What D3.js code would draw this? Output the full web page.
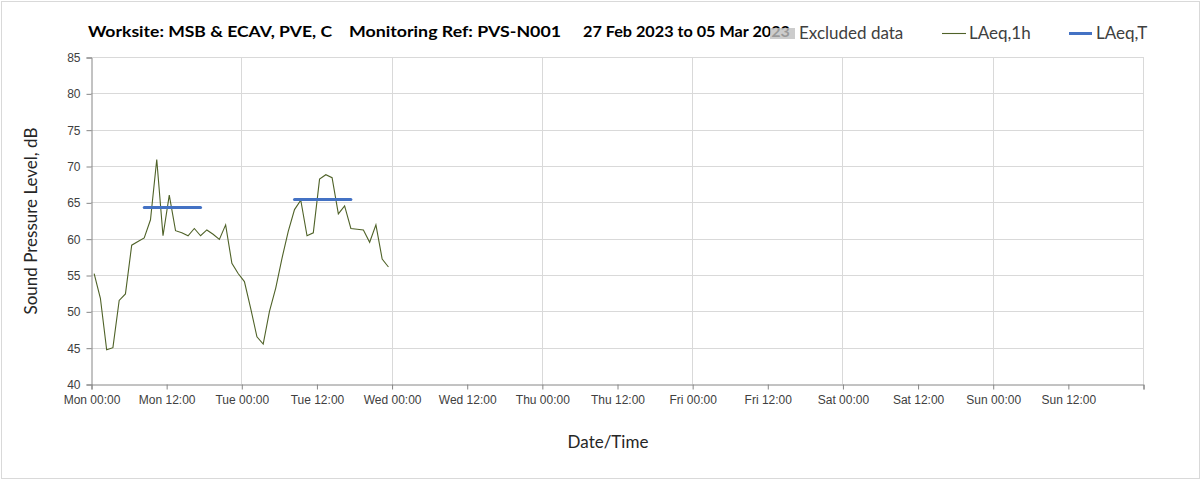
<!DOCTYPE html>
<html>
<head>
<meta charset="utf-8">
<script src="https://cdn.jsdelivr.net/npm/d3@7"></script>
<style>
  body { margin: 0; background: #fff; }
  svg { font-family: Lato, "Open Sans", sans-serif; }
</style>
</head>
<body>
<div id="chart"></div>
<script>
// Data
var titleParts = ["Worksite: MSB & ECAV, PVE, C", "Monitoring Ref: PVS-N001", "27 Feb 2023 to 05 Mar 2023"],
  seriesNames = ["Excluded data", "LAeq,1h", "LAeq,T"],
  yTicks = [40, 45, 50, 55, 60, 65, 70, 75, 80, 85];

// hourly LAeq,1h starting Mon 27 Feb 2023 00:00
var laeq1h = [55.2, 51.8, 44.7, 45.0, 51.5, 52.4, 59.1, 59.6, 60.1, 62.6,
  70.9, 60.4, 66.0, 61.1, 60.8, 60.4, 61.4, 60.4, 61.2, 60.6,
  59.9, 61.9, 56.6, 55.2, 54.1, 50.4, 46.5, 45.5, 50.0, 53.2,
  57.3, 61.0, 64.0, 65.3, 60.4, 60.8, 68.2, 68.8, 68.4, 63.4,
  64.5, 61.4, 61.3, 61.2, 59.5, 61.9, 57.2, 56.1];

// LAeq,T daytime periods
var periodStart = ["2023-02-27T08:30Z", "2023-02-28T08:30Z"],
  periodEnd = ["2023-02-27T17:30Z", "2023-02-28T17:30Z"],
  periodValue = [64.3, 65.4];

var W = 1203, H = 481;
var mLeft = 91, mRight = 1143, mTop = 57, mBottom = 384;
var t0 = new Date(Date.UTC(2023, 1, 27)), t1 = new Date(Date.UTC(2023, 2, 6));

var x = d3.scaleUtc().domain([t0, t1]).range([mLeft, mRight]);
var y = d3.scaleLinear().domain([40, 85]).range([mBottom, mTop]);

var svg = d3.select("#chart").append("svg")
  .attr("width", W)
  .attr("height", H);

// outer chart border
svg.append("rect")
  .attr("x", 1.5).attr("y", 1.5)
  .attr("width", 1198).attr("height", 477)
  .attr("fill", "#fff")
  .attr("stroke", "#d9d9d9");

// gridlines
var hTicks = d3.utcHour.every(12).range(t0, d3.utcHour.offset(t1, 1));
var dayTicks = hTicks.filter(function(d) { return d.getUTCHours() == 0; });

svg.append("g").selectAll("line")
  .data(yTicks.filter(function(d) { return d > 40; }))
  .enter().append("line")
  .attr("x1", mLeft).attr("x2", mRight)
  .attr("y1", function(d) { return Math.round(y(d)) + 0.5; })
  .attr("y2", function(d) { return Math.round(y(d)) + 0.5; })
  .attr("stroke", "#d9d9d9");

svg.append("g").selectAll("line")
  .data(dayTicks.slice(1))
  .enter().append("line")
  .attr("x1", function(d) { return Math.round(x(d)) + 0.5; })
  .attr("x2", function(d) { return Math.round(x(d)) + 0.5; })
  .attr("y1", mTop).attr("y2", mBottom)
  .attr("stroke", "#d9d9d9");

// y axis
var yAxis = d3.axisLeft(y).tickValues(yTicks).tickSize(5).tickPadding(6);
var gy = svg.append("g")
  .attr("transform", "translate(" + (mLeft + 0.5) + ",0.5)")
  .call(yAxis);
gy.select(".domain").attr("stroke", "#868686");
gy.selectAll(".tick line").attr("stroke", "#868686");
gy.selectAll(".tick text")
  .attr("fill", "#404040")
  .style("font-size", "12px");

// x axis
var fmt = d3.utcFormat("%a %H:%M");
var xAxis = d3.axisBottom(x).tickValues(hTicks).tickSize(5).tickPadding(6)
  .tickFormat(function(d) { return +d == +t1 ? "" : fmt(d); });
var gx = svg.append("g")
  .attr("transform", "translate(0.5," + (mBottom + 0.5) + ")")
  .call(xAxis);
gx.select(".domain").attr("stroke", "#868686");
gx.selectAll(".tick line").attr("stroke", "#868686");
gx.selectAll(".tick text")
  .attr("fill", "#404040")
  .style("font-size", "12px");

// LAeq,1h line
var line = d3.line()
  .x(function(d, i) { return x(d3.utcMinute.offset(t0, i * 60 + 30)); })
  .y(function(d) { return y(d); });

svg.append("path")
  .datum(laeq1h)
  .attr("d", line)
  .attr("fill", "none")
  .attr("stroke", "#4f6228")
  .attr("stroke-width", 1.1);

// LAeq,T periods
svg.append("g").selectAll("line")
  .data(periodValue)
  .enter().append("line")
  .attr("x1", function(d, i) { return x(new Date(periodStart[i])); })
  .attr("x2", function(d, i) { return x(new Date(periodEnd[i])); })
  .attr("y1", function(d) { return y(d); })
  .attr("y2", function(d) { return y(d); })
  .attr("stroke", "#4472c4")
  .attr("stroke-width", 3)
  .attr("stroke-linecap", "round");

// title
var titleX = [88, 349, 583], titleW = [244, 212, 207];
svg.append("g").selectAll("text")
  .data(titleParts)
  .enter().append("text")
  .attr("x", function(d, i) { return titleX[i]; })
  .attr("y", 37)
  .attr("textLength", function(d, i) { return titleW[i]; })
  .attr("lengthAdjust", "spacingAndGlyphs")
  .style("font-size", "15px")
  .style("font-weight", "bold")
  .attr("fill", "#000")
  .text(function(d) { return d; });

// legend
var legend = svg.append("g");
legend.append("rect")
  .attr("x", 770).attr("y", 28)
  .attr("width", 25).attr("height", 11)
  .attr("fill", "#bfbfbf")
  .attr("opacity", 0.8);
legend.append("line")
  .attr("x1", 942).attr("x2", 966).attr("y1", 33.5).attr("y2", 33.5)
  .attr("stroke", "#4f6228").attr("stroke-width", 1.1);
legend.append("line")
  .attr("x1", 1069).attr("x2", 1092).attr("y1", 33.5).attr("y2", 33.5)
  .attr("stroke", "#4472c4").attr("stroke-width", 3);
var legX = [799, 969, 1096];
legend.selectAll("text")
  .data(seriesNames)
  .enter().append("text")
  .attr("x", function(d, i) { return legX[i]; })
  .attr("y", 39)
  .style("font-size", "17px")
  .attr("fill", "#404040")
  .text(function(d) { return d; });

// axis titles
svg.append("text")
  .attr("transform", "translate(37,221)rotate(-90)")
  .attr("text-anchor", "middle")
  .style("font-size", "17px")
  .attr("fill", "#262626")
  .text("Sound Pressure Level, dB");

svg.append("text")
  .attr("x", 608).attr("y", 448)
  .attr("text-anchor", "middle")
  .style("font-size", "17px")
  .attr("fill", "#262626")
  .text("Date/Time");
</script>
</body>
</html>
